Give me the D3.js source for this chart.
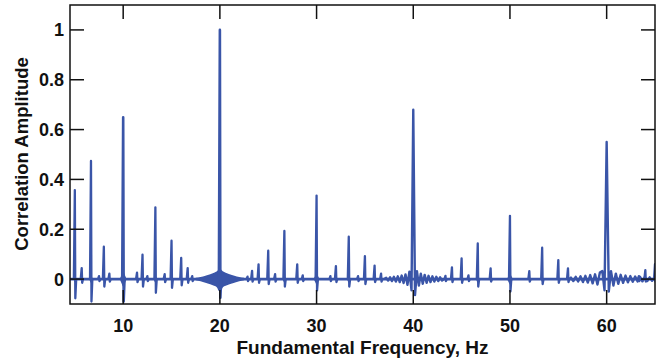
<!DOCTYPE html>
<html><head><meta charset="utf-8">
<script src="https://cdn.jsdelivr.net/npm/d3@7"></script>
<style>
body{margin:0;background:#fff}
svg{display:block}
text{font-family:"Liberation Sans",Arial,Helvetica,sans-serif;font-weight:bold;fill:#111}
</style>
</head><body>
<svg id="chart" width="663" height="361"></svg>
<script>
// ---------- data ----------
const xTicks = [10, 20, 30, 40, 50, 60];
const yTicks = [0, 0.2, 0.4, 0.6, 0.8, 1];
const yTickLabels = ["0", "0.2", "0.4", "0.6", "0.8", "1"];
const xTitle = "Fundamental Frequency, Hz";
const yTitle = "Correlation Amplitude";

// correlation spikes (frequency Hz, peak height, trough just after it)
const peakFreq   = [5.0, 5.71, 6.67, 7.5, 8.0, 8.57, 10.0, 11.43, 12.0, 12.5, 13.33, 14.29, 15.0, 16.0, 16.67, 17.14, 20.0, 22.86, 23.33, 24.0, 25.0, 25.71, 26.67, 28.0, 28.57, 30.0, 31.43, 32.0, 33.33, 34.29, 35.0, 36.0, 36.67, 43.33, 44.0, 45.0, 45.71, 46.67, 48.0, 50.0, 52.0, 53.33, 55.0, 56.0, 63.33, 64.0, 65.0];
const peakHeight = [0.357, 0.044, 0.474, 0.012, 0.13, 0.022, 0.649, 0.026, 0.098, 0.012, 0.288, 0.02, 0.154, 0.085, 0.044, 0.012, 1.0, 0.01, 0.033, 0.059, 0.114, 0.02, 0.193, 0.059, 0.015, 0.335, 0.012, 0.052, 0.17, 0.012, 0.092, 0.054, 0.022, 0.013, 0.047, 0.083, 0.015, 0.143, 0.043, 0.254, 0.032, 0.126, 0.076, 0.043, 0.012, 0.036, 0.06];
const peakTrough = [-0.077, -0.015, -0.09, -0.008, -0.03, -0.01, -0.09, -0.012, -0.03, -0.008, -0.055, -0.012, -0.035, -0.025, -0.015, -0.008, -0.075, -0.008, -0.01, -0.015, -0.02, -0.01, -0.03, -0.015, -0.008, -0.045, -0.008, -0.012, -0.03, -0.008, -0.02, -0.012, -0.01, -0.008, -0.012, -0.015, -0.008, -0.03, -0.01, -0.05, -0.01, -0.02, -0.015, -0.012, -0.008, -0.01, -0.01];

// dense ripple envelopes around smaller peaks
const bandCenter    = [5.0, 6.67, 10.0, 13.33, 26.67, 30.0, 33.33, 46.67, 50.0, 53.33];
const bandHalfWidth = [0.15, 0.2, 0.35, 0.2, 0.2, 0.3, 0.2, 0.2, 0.3, 0.15];
const bandAmp       = [0.012, 0.015, 0.03, 0.015, 0.015, 0.022, 0.015, 0.015, 0.022, 0.012];

// dense ripple envelope around 20 Hz
const band20Freq  = [17.5, 18.0, 18.5, 19.0, 19.4, 19.7, 19.9, 20.1, 20.3, 20.6, 21.0, 21.5, 22.0, 22.5];
const band20Upper = [0.005, 0.008, 0.013, 0.019, 0.025, 0.031, 0.038, 0.038, 0.031, 0.025, 0.019, 0.013, 0.008, 0.005];
const band20Lower = [-0.005, -0.009, -0.015, -0.021, -0.027, -0.034, -0.048, -0.048, -0.034, -0.027, -0.021, -0.015, -0.009, -0.005];

// visible ringing around 40 Hz
const ripple40Freq  = [37.0, 37.2, 37.4, 37.6, 37.8, 38.0, 38.2, 38.4, 38.6, 38.8, 39.0, 39.2, 39.4, 39.6, 39.82, 40.0, 40.18, 40.38, 40.58, 40.78, 40.98, 41.18, 41.38, 41.58, 41.78, 41.98, 42.18, 42.38, 42.58, 42.78, 42.98, 43.18];
const ripple40Value = [0, 0.005, -0.006, 0.007, -0.008, 0.009, -0.01, 0.011, -0.012, 0.014, -0.016, 0.019, -0.023, 0.03, -0.045, 0.68, -0.064, 0.032, -0.026, 0.022, -0.019, 0.017, -0.015, 0.013, -0.012, 0.011, -0.01, 0.009, -0.008, 0.007, -0.006, 0];

// visible ringing around 60 Hz
const ripple60Freq  = [56.1, 56.3, 56.55, 56.8, 57.05, 57.3, 57.55, 57.8, 58.05, 58.3, 58.55, 58.8, 59.05, 59.3, 59.55, 59.78, 60.0, 60.22, 60.45, 60.7, 60.95, 61.2, 61.45, 61.7, 61.95, 62.2, 62.45, 62.7, 62.95, 63.2, 63.45, 63.7, 63.95, 64.2, 64.45, 64.7, 64.95];
const ripple60Value = [0, 0.006, -0.008, 0.009, -0.01, 0.011, -0.012, 0.013, -0.014, 0.016, -0.017, 0.019, -0.022, 0.026, 0.032, -0.045, 0.55, -0.05, 0.032, -0.026, 0.022, -0.019, 0.017, -0.015, 0.014, -0.013, 0.012, -0.011, 0.01, -0.01, 0.009, -0.009, 0.008, -0.008, 0.007, -0.007, 0.006];

// ---------- layout ----------
const W = 663, H = 361;
const m = {left: 70, right: 8, top: 5, bottom: 57};
const color = "#3a55a8";
const svg = d3.select("#chart");
const x = d3.scaleLinear().domain([4.5, 65]).range([m.left, W - m.right]);
const y = d3.scaleLinear().domain([-0.1, 1.1]).range([H - m.bottom, m.top]);

svg.append("defs").append("clipPath").attr("id", "clip")
  .append("rect").attr("x", m.left).attr("y", m.top)
  .attr("width", W - m.left - m.right).attr("height", H - m.top - m.bottom);

const g = svg.append("g").attr("clip-path", "url(#clip)");
const line = d3.line().x(d => x(d[0])).y(d => y(d[1]));

// baseline
g.append("path").datum([[4.5, 0], [65, 0]]).attr("d", line)
  .attr("fill", "none").attr("stroke", color).attr("stroke-width", 2.8);

// generic bands
const area = d3.area().x(d => x(d[0])).y0(d => y(d[2])).y1(d => y(d[1])).curve(d3.curveMonotoneX);
bandCenter.forEach((c, i) => {
  const w = bandHalfWidth[i], a = bandAmp[i];
  const pts = [[c - w, 0, 0], [c - w / 2, a * 0.55, -a * 0.55], [c, a, -a], [c + w / 2, a * 0.55, -a * 0.55], [c + w, 0, 0]];
  g.append("path").datum(pts).attr("d", area).attr("fill", color);
});

// 20 Hz band
g.append("path").datum(band20Freq.map((f, i) => [f, band20Upper[i], band20Lower[i]]))
  .attr("d", area).attr("fill", color);

// ringing at 40 and 60
[[ripple40Freq, ripple40Value], [ripple60Freq, ripple60Value]].forEach(([fs, vs]) => {
  g.append("path").datum(fs.map((f, i) => [f, vs[i]])).attr("d", line)
    .attr("fill", "none").attr("stroke", color).attr("stroke-width", 2.4).attr("stroke-linejoin", "round");
});

// spikes
peakFreq.forEach((f, i) => {
  const pts = [[f - 0.1, 0], [f, peakHeight[i]], [f + 0.05, peakTrough[i]], [f + 0.14, 0]];
  g.append("path").datum(pts).attr("d", line)
    .attr("fill", "none").attr("stroke", color)
    .attr("stroke-width", peakHeight[i] > 0.5 ? 2.6 : 2.3)
    .attr("stroke-linejoin", "round");
});

// ---------- frame & ticks ----------
const x0 = m.left, x1 = W - m.right, y0 = H - m.bottom, y1 = m.top;
const tl = 14;
const fg = svg.append("g").attr("stroke", "#111").attr("stroke-width", 1.5);
fg.append("rect").attr("x", x0).attr("y", y1).attr("width", x1 - x0).attr("height", y0 - y1).attr("fill", "none");
xTicks.forEach(t => {
  fg.append("line").attr("x1", x(t)).attr("x2", x(t)).attr("y1", y0).attr("y2", y0 - tl);
  fg.append("line").attr("x1", x(t)).attr("x2", x(t)).attr("y1", y1).attr("y2", y1 + tl);
});
yTicks.forEach(t => {
  fg.append("line").attr("x1", x0).attr("x2", x0 + tl).attr("y1", y(t)).attr("y2", y(t));
  fg.append("line").attr("x1", x1).attr("x2", x1 - tl).attr("y1", y(t)).attr("y2", y(t));
});

// tick labels
xTicks.forEach(t => {
  svg.append("text").attr("x", x(t)).attr("y", 332).attr("text-anchor", "middle")
    .attr("font-size", 18).text(t);
});
yTicks.forEach((t, i) => {
  svg.append("text").attr("x", 64).attr("y", y(t) + 6.5).attr("text-anchor", "end")
    .attr("font-size", 18).text(yTickLabels[i]);
});

// titles
svg.append("text").attr("x", (x0 + x1) / 2).attr("y", 354).attr("text-anchor", "middle")
  .attr("font-size", 19).text(xTitle);
svg.append("text").attr("transform", "translate(28,154) rotate(-90)").attr("text-anchor", "middle")
  .attr("font-size", 18.5).text(yTitle);
</script>
</body></html>
